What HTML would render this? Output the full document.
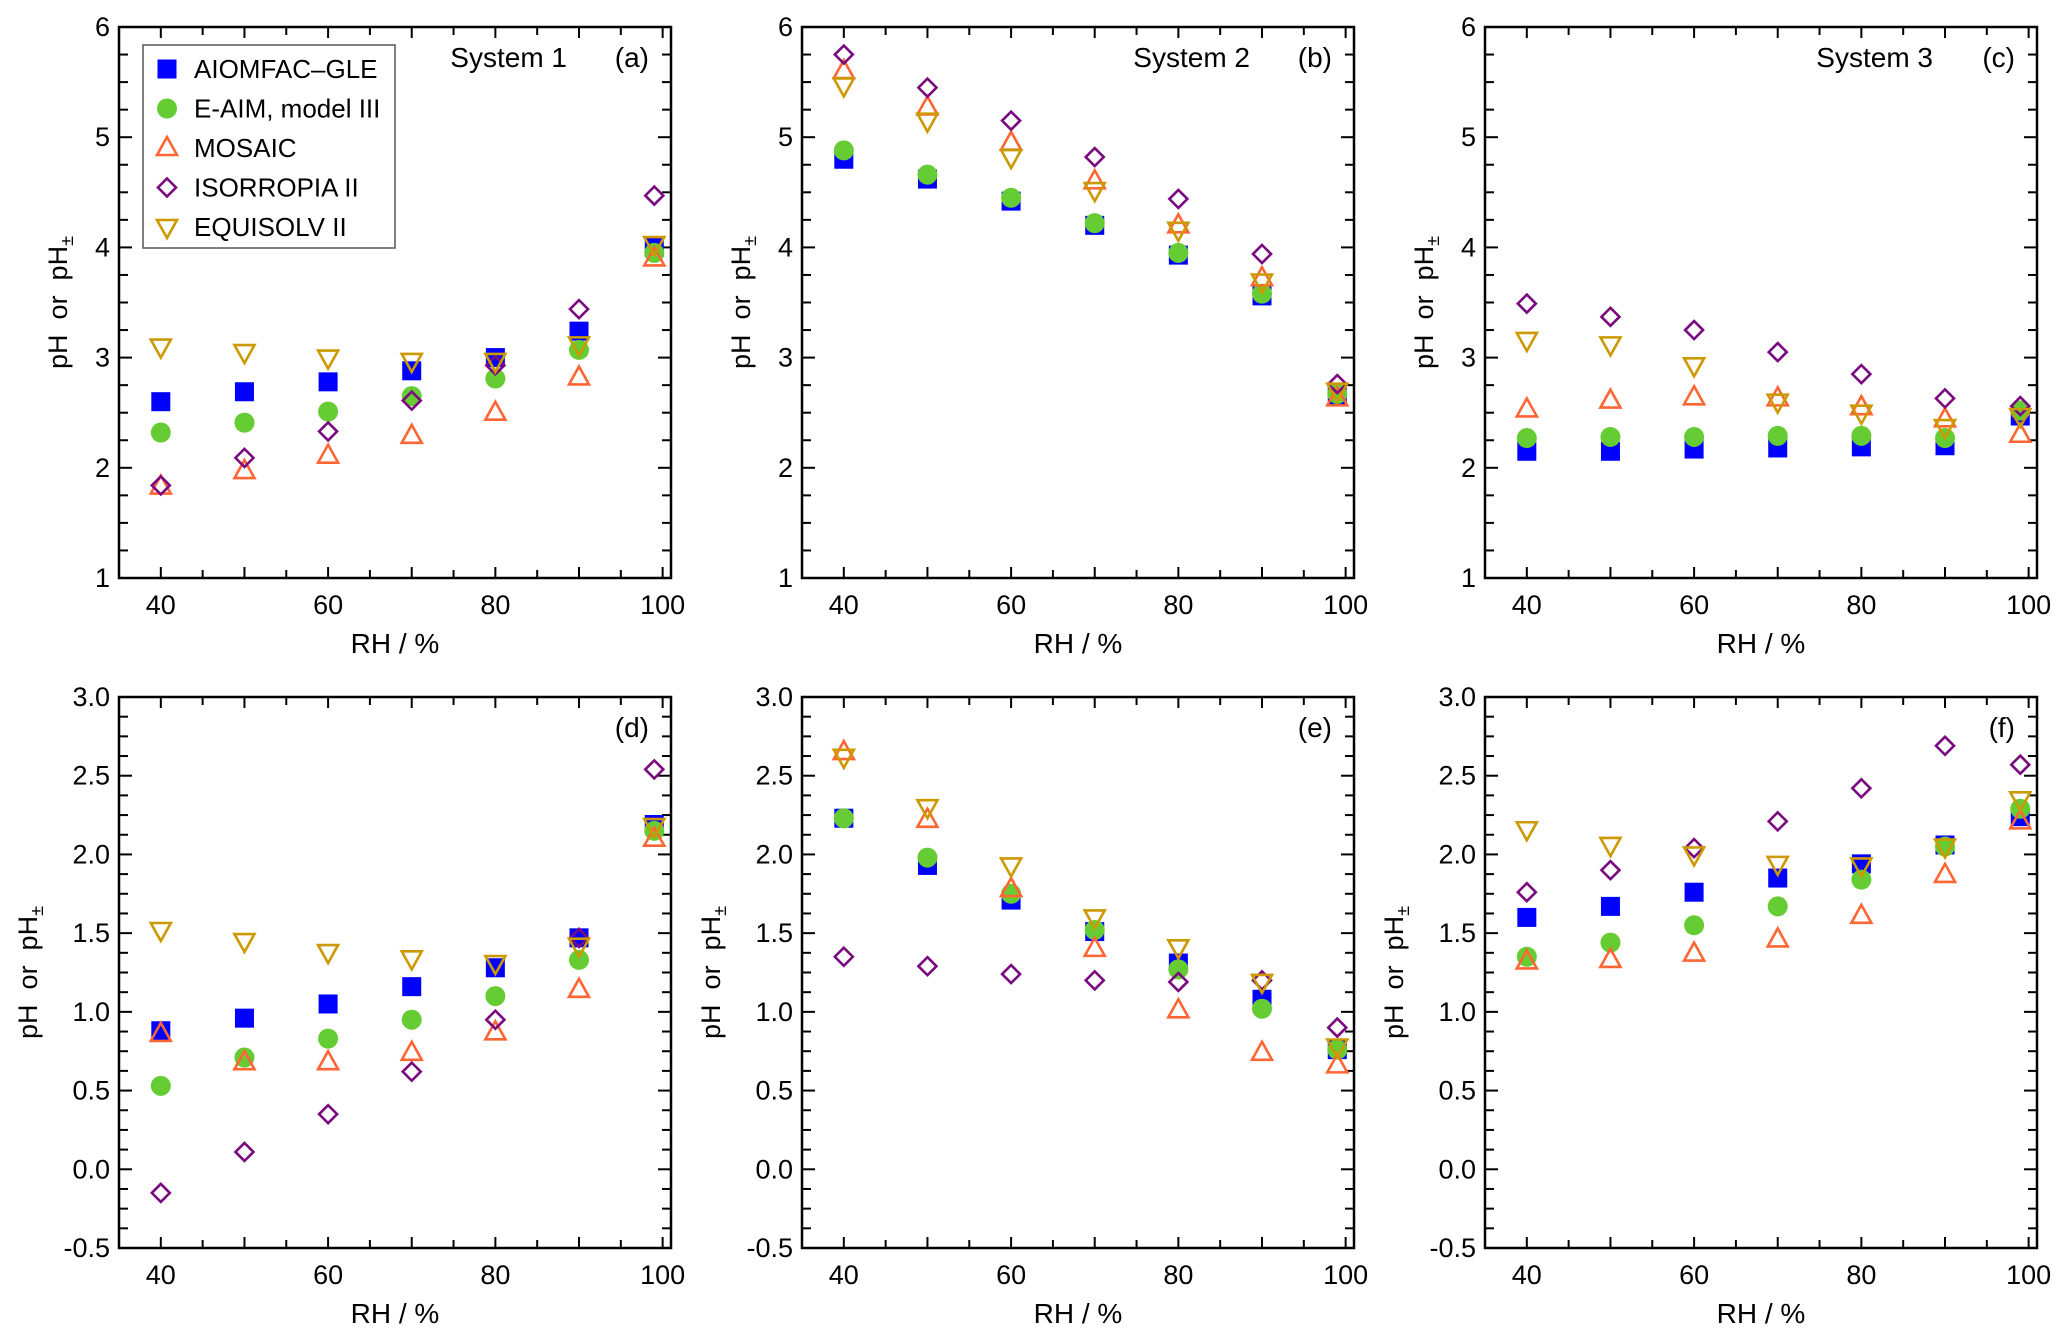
<!DOCTYPE html>
<html><head><meta charset="utf-8">
<style>
html,body{margin:0;padding:0;background:#fff;}
svg{display:block;font-family:"Liberation Sans",Arial,sans-serif;}
</style></head>
<body>
<svg id="fig" width="2067" height="1341" viewBox="0 0 2067 1341" xmlns="http://www.w3.org/2000/svg"></svg>
<script>
const rhValues = [40, 50, 60, 70, 80, 90, 99];
const seriesNames = ["AIOMFAC\u2013GLE", "E-AIM, model III", "MOSAIC", "ISORROPIA II", "EQUISOLV II"];
const xTicks = [40, 60, 80, 100];
const yTicksUpper = [1, 2, 3, 4, 5, 6];
const yTicksLower = ["-0.5", "0.0", "0.5", "1.0", "1.5", "2.0", "2.5", "3.0"];

const aAiomfac = [2.6, 2.69, 2.78, 2.88, 3.0, 3.24, 4.0];
const aEaim = [2.32, 2.41, 2.51, 2.65, 2.81, 3.07, 3.95];
const aMosaic = [1.83, 1.97, 2.11, 2.29, 2.5, 2.82, 3.9];
const aIsorropia = [1.84, 2.09, 2.33, 2.61, 2.93, 3.44, 4.47];
const aEquisolv = [3.1, 3.05, 3.0, 2.97, 2.97, 3.12, 4.03];

const bAiomfac = [4.8, 4.62, 4.42, 4.2, 3.93, 3.56, 2.65];
const bEaim = [4.88, 4.66, 4.45, 4.22, 3.95, 3.58, 2.67];
const bMosaic = [5.6, 5.27, 4.95, 4.6, 4.2, 3.72, 2.63];
const bIsorropia = [5.75, 5.45, 5.15, 4.82, 4.44, 3.94, 2.76];
const bEquisolv = [5.47, 5.15, 4.82, 4.52, 4.16, 3.69, 2.7];

const cAiomfac = [2.15, 2.15, 2.17, 2.18, 2.19, 2.2, 2.47];
const cEaim = [2.27, 2.28, 2.28, 2.29, 2.29, 2.27, 2.52];
const cMosaic = [2.53, 2.61, 2.64, 2.63, 2.55, 2.44, 2.3];
const cIsorropia = [3.49, 3.37, 3.25, 3.05, 2.85, 2.63, 2.56];
const cEquisolv = [3.16, 3.12, 2.93, 2.6, 2.5, 2.37, 2.47];

const dAiomfac = [0.88, 0.96, 1.05, 1.16, 1.28, 1.47, 2.19];
const dEaim = [0.53, 0.71, 0.83, 0.95, 1.1, 1.33, 2.15];
const dMosaic = [0.86, 0.68, 0.68, 0.74, 0.87, 1.14, 2.1];
const dIsorropia = [-0.15, 0.11, 0.35, 0.62, 0.95, 1.47, 2.54];
const dEquisolv = [1.52, 1.45, 1.38, 1.34, 1.31, 1.42, 2.18];

const eAiomfac = [2.23, 1.93, 1.71, 1.51, 1.31, 1.08, 0.76];
const eEaim = [2.23, 1.98, 1.75, 1.52, 1.27, 1.02, 0.76];
const eMosaic = [2.65, 2.22, 1.78, 1.4, 1.01, 0.74, 0.66];
const eIsorropia = [1.35, 1.29, 1.24, 1.2, 1.19, 1.2, 0.9];
const eEquisolv = [2.62, 2.3, 1.93, 1.6, 1.41, 1.19, 0.78];

const fAiomfac = [1.6, 1.67, 1.76, 1.85, 1.94, 2.06, 2.24];
const fEaim = [1.35, 1.44, 1.55, 1.67, 1.84, 2.05, 2.29];
const fMosaic = [1.32, 1.33, 1.37, 1.46, 1.61, 1.87, 2.21];
const fIsorropia = [1.76, 1.9, 2.04, 2.21, 2.42, 2.69, 2.57];
const fEquisolv = [2.16, 2.06, 2.0, 1.94, 1.93, 2.05, 2.35];

const NS = "http://www.w3.org/2000/svg";
const svg = document.getElementById("fig");
function mk(tag, attrs, parent){
  const e = document.createElementNS(NS, tag);
  for (const k in attrs) e.setAttribute(k, attrs[k]);
  (parent || svg).appendChild(e);
  return e;
}
const COL = {sq:"#0000ff", ci:"#66cc33", up:"#ff6633", di:"#7a0a7f", dn:"#cc9900"};
const S = 2.6;
function marker(g, type, cx, cy){
  let e;
  if (type === "sq") e = mk("rect", {x:cx-9.5, y:cy-9.5, width:19, height:19, fill:COL.sq}, g);
  else if (type === "ci") e = mk("circle", {cx:cx, cy:cy, r:10, fill:COL.ci}, g);
  else if (type === "up") e = mk("polygon", {points:`${cx},${cy-11} ${cx+10},${cy+7} ${cx-10},${cy+7}`, fill:"none", stroke:COL.up, "stroke-width":S}, g);
  else if (type === "di") e = mk("polygon", {points:`${cx},${cy-9} ${cx+9},${cy} ${cx},${cy+9} ${cx-9},${cy}`, fill:"none", stroke:COL.di, "stroke-width":S}, g);
  else e = mk("polygon", {points:`${cx},${cy+11} ${cx+10},${cy-7} ${cx-10},${cy-7}`, fill:"none", stroke:COL.dn, "stroke-width":S}, g);
  return e;
}

const panels = [
  {id:"a", L:119, T:27, sys:"System 1", ymin:1, ymax:6, minor:0.25, major:1, labels:yTicksUpper, ylx:58, data:[aAiomfac,aEaim,aMosaic,aIsorropia,aEquisolv]},
  {id:"b", L:802, T:27, sys:"System 2", ymin:1, ymax:6, minor:0.25, major:1, labels:yTicksUpper, ylx:741, data:[bAiomfac,bEaim,bMosaic,bIsorropia,bEquisolv]},
  {id:"c", L:1485, T:27, sys:"System 3", ymin:1, ymax:6, minor:0.25, major:1, labels:yTicksUpper, ylx:1424, data:[cAiomfac,cEaim,cMosaic,cIsorropia,cEquisolv]},
  {id:"d", L:119, T:697, sys:"", ymin:-0.5, ymax:3, minor:0.125, major:0.5, labels:yTicksLower, ylx:28, data:[dAiomfac,dEaim,dMosaic,dIsorropia,dEquisolv]},
  {id:"e", L:802, T:697, sys:"", ymin:-0.5, ymax:3, minor:0.125, major:0.5, labels:yTicksLower, ylx:711, data:[eAiomfac,eEaim,eMosaic,eIsorropia,eEquisolv]},
  {id:"f", L:1485, T:697, sys:"", ymin:-0.5, ymax:3, minor:0.125, major:0.5, labels:yTicksLower, ylx:1394, data:[fAiomfac,fEaim,fMosaic,fIsorropia,fEquisolv]}
];
const W = 552, H = 551, XMIN = 35, XMAX = 101;
const types = ["sq","ci","up","di","dn"];
const seriesKeys = ["aiomfac","eaim","mosaic","isorropia","equisolv"];

panels.forEach(p => {
  const g = mk("g", {});
  
  
  const xs = v => p.L + (v - XMIN) / (XMAX - XMIN) * W;
  const ys = v => p.T + H - (v - p.ymin) / (p.ymax - p.ymin) * H;
  const tg = mk("g", {stroke:"#000", "stroke-width":2}, g);
  
  
  for (let v = 35; v <= 100; v += 5) {
    const len = (v % 10 === 0) ? 11 : 8;
    const x = xs(v);
    mk("line", {x1:x, y1:p.T+H, x2:x, y2:p.T+H-len}, tg);
    mk("line", {x1:x, y1:p.T, x2:x, y2:p.T+len}, tg);
  }
  const nMinor = Math.round((p.ymax - p.ymin) / p.minor);
  for (let i = 0; i <= nMinor; i++) {
    const v = p.ymin + i * p.minor;
    const isMaj = Math.abs(v / p.major - Math.round(v / p.major)) < 1e-6;
    const len = isMaj ? 13 : 9;
    const y = ys(v);
    mk("line", {x1:p.L, y1:y, x2:p.L+len, y2:y}, tg);
    mk("line", {x1:p.L+W, y1:y, x2:p.L+W-len, y2:y}, tg);
  }
  const fr = mk("rect", {x:p.L, y:p.T, width:W, height:H, fill:"none", stroke:"#000", "stroke-width":2.5}, g);
  
  
  xTicks.forEach(v => {
    const t = mk("text", {x:xs(v), y:p.T+H+36, "font-size":27, "text-anchor":"middle", fill:"#000"}, g);
    t.textContent = v;
    
    
  });
  p.labels.forEach(lab => {
    const t = mk("text", {x:p.L-9, y:ys(parseFloat(lab))+9, "font-size":27, "text-anchor":"end", fill:"#000"}, g);
    t.textContent = lab;
    
    
  });
  const xt = mk("text", {x:p.L+W/2, y:p.T+H+75, "font-size":28, "text-anchor":"middle", fill:"#000"}, g);
  xt.textContent = "RH / %";
  
  
  const yt = mk("text", {x:0, y:0, "font-size":27, "text-anchor":"middle", fill:"#000", transform:`translate(${p.ylx+9},${p.T+H/2}) rotate(-90)`}, g);
  
  
  const t1 = mk("tspan", {}, yt); t1.textContent = "pH\u00a0\u00a0or\u00a0\u00a0pH";
  const t2 = mk("tspan", {"font-size":18, dy:6}, yt); t2.textContent = "\u00b1";
  const pl = mk("text", {x:p.L+W-22, y:p.T+40, "font-size":28, "text-anchor":"end", fill:"#000"}, g);
  pl.textContent = "(" + p.id + ")";
  
  
  if (p.sys) {
    const st = mk("text", {x:p.L+W-104, y:p.T+40, "font-size":28, "text-anchor":"end", fill:"#000"}, g);
    st.textContent = p.sys;
    
    
  }
  p.data.forEach((arr, si) => {
    const sg = mk("g", {}, g);
    
    
    arr.forEach((v, i) => {
      const m = marker(sg, types[si], xs(rhValues[i]), ys(v));
      
      
    });
  });
});

const lg = mk("g", {});


mk("rect", {x:143, y:45, width:252, height:203, fill:"#fff", stroke:"#555", "stroke-width":1.5}, lg);
seriesNames.forEach((name, i) => {
  const y = 69 + i * 39.5;
  const e = mk("g", {}, lg);
  
  
  marker(e, types[i], 167, y);
  const t = mk("text", {x:194, y:y+9, "font-size":26, fill:"#000"}, e);
  t.textContent = name;
});
</script>
</body></html>
